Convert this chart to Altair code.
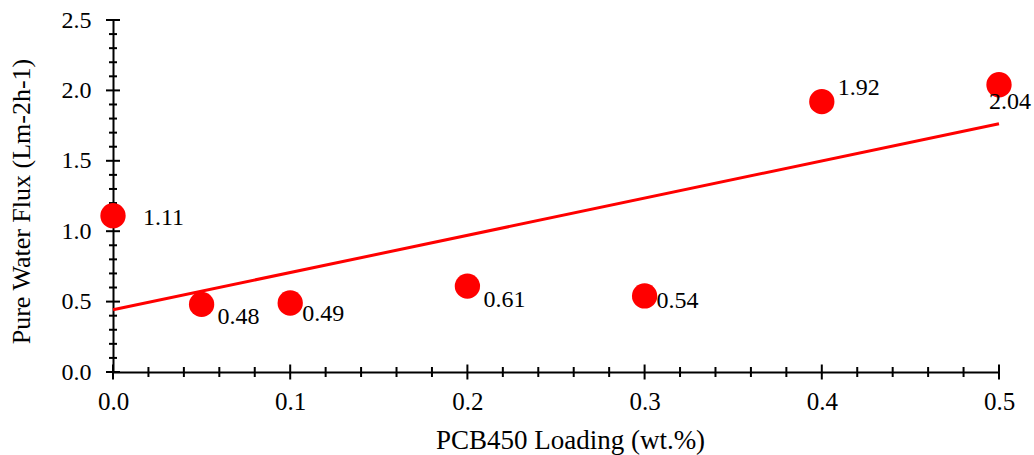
import altair as alt
import pandas as pd

# Data
loading = [0.0, 0.05, 0.1, 0.2, 0.3, 0.4, 0.5]
flux = [1.11, 0.48, 0.49, 0.61, 0.54, 1.92, 2.04]
labels = ["1.11", "0.48", "0.49", "0.61", "0.54", "1.92", "2.04"]

x_major = [0.0, 0.1, 0.2, 0.3, 0.4, 0.5]
x_minor = [0.02, 0.04, 0.06, 0.08, 0.12, 0.14, 0.16, 0.18, 0.22, 0.24, 0.26, 0.28,
           0.32, 0.34, 0.36, 0.38, 0.42, 0.44, 0.46, 0.48]
y_major = [0.0, 0.5, 1.0, 1.5, 2.0, 2.5]
y_minor = [0.1, 0.2, 0.3, 0.4, 0.6, 0.7, 0.8, 0.9, 1.1, 1.2, 1.3, 1.4,
           1.6, 1.7, 1.8, 1.9, 2.1, 2.2, 2.3, 2.4]

df = pd.DataFrame({"x": loading, "y": flux, "label": labels})
FONT = "Liberation Serif"
RED = "#ff0000"

xs = alt.Scale(domain=[0, 0.5], nice=False, zero=False)
ys = alt.Scale(domain=[0, 2.5], nice=False, zero=False)

x_axis = alt.Axis(
    values=x_major, format=".1f", ticks=False, grid=False, domain=True,
    domainColor="black", domainWidth=2, labelFont=FONT, labelFontSize=25,
    labelColor="black", labelPadding=17, labelFlush=False, labelOverlap=False,
    title="PCB450 Loading (wt.%)", titleFont=FONT, titleFontSize=27,
    titleFontWeight="normal", titleColor="black", titleX=457, titleY=76,
    titleBaseline="alphabetic", titleAlign="center", zindex=0)
y_axis = alt.Axis(
    values=y_major, format=".1f", ticks=False, grid=False, domain=True,
    domainColor="black", domainWidth=2, labelFont=FONT, labelFontSize=24,
    labelColor="black", labelPadding=22, labelFlush=False, labelOverlap=False,
    title="Pure Water Flux (Lm-2h-1)", titleFont=FONT, titleFontSize=26,
    titleFontWeight="normal", titleColor="black", titleX=-84, titleY=181,
    titleAngle=-90, titleBaseline="alphabetic", titleAlign="center", zindex=0)

def X():
    return alt.X("x:Q", scale=xs, axis=x_axis, title="PCB450 Loading (wt.%)")

def Y():
    return alt.Y("y:Q", scale=ys, axis=y_axis, title="Pure Water Flux (Lm-2h-1)")

base = alt.Chart(df)

# tick marks crossing the axes
def xticks(vals, size):
    return alt.Chart(pd.DataFrame({"x": vals, "y": [0.0] * len(vals)})).mark_tick(
        orient="vertical", size=size, thickness=2, color="black", opacity=1
    ).encode(x=X(), y=Y())

def yticks(vals, size):
    return alt.Chart(pd.DataFrame({"y": vals, "x": [0.0] * len(vals)})).mark_tick(
        orient="horizontal", size=size, thickness=2, color="black", opacity=1
    ).encode(x=X(), y=Y())

trend = base.transform_regression("x", "y", extent=[0, 0.5]).mark_line(
    color=RED, strokeWidth=3
).encode(x=X(), y=Y())

points = base.mark_circle(color=RED, opacity=1, size=640).encode(x=X(), y=Y())

# label placement (style only)
offsets = {
    "1.11": ("left", 30, 9),
    "0.48": ("left", 16, 20),
    "0.49": ("left", 12, 18),
    "0.61": ("left", 16, 21),
    "0.54": ("left", 12, 12),
    "1.92": ("left", 16, -7),
    "2.04": ("center", 11, 24),
}

label_layers = []
for lab, (al, dx, dy) in offsets.items():
    label_layers.append(
        base.transform_filter(alt.datum.label == lab).mark_text(
            font=FONT, fontSize=24, color="black", align=al, baseline="alphabetic",
            dx=dx, dy=dy
        ).encode(x=X(), y=Y(), text="label:N")
    )

chart = alt.layer(
    xticks(x_minor, 10), xticks(x_major, 15),
    yticks(y_minor, 8), yticks(y_major, 14),
    trend, points, *label_layers
).properties(
    width=886, height=352,
    padding={"left": 113, "top": 20, "right": 35, "bottom": 83},
    autosize="none", background="white"
).configure_view(stroke=None)

chart.save("out.html", embed_options={"renderer": "svg", "actions": False})
